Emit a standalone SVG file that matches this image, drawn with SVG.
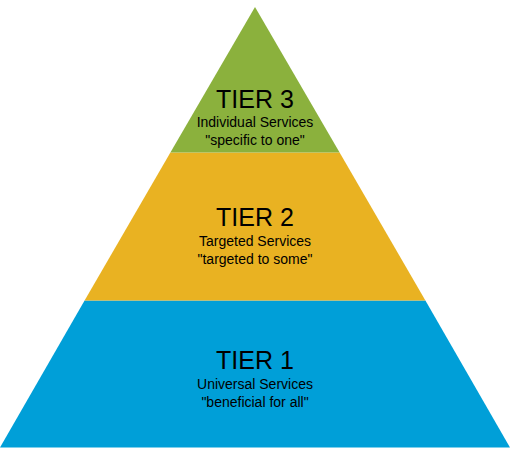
<svg xmlns="http://www.w3.org/2000/svg" width="510" height="450" viewBox="0 0 510 450">
<style>
text{font-family:"Liberation Sans",Arial,sans-serif;fill:#000;text-anchor:middle}
.t{font-size:25px}
.s{font-size:14px}
</style>
<rect width="510" height="450" fill="#fff"/>
<g id="tier1">
<polygon points="84.6,300.5 425.4,300.5 510,447.5 0,447.5" fill="#009FD8"/>
<text class="t" x="255" y="368.5">TIER 1</text>
<text class="s" x="255" y="388.5">Universal Services</text>
<text class="s" x="255" y="407">"beneficial for all"</text>
</g>
<g id="tier2">
<polygon points="170.4,152.5 339.6,152.5 425.4,300.5 84.6,300.5" fill="#E9B222"/>
<text class="t" x="255" y="226">TIER 2</text>
<text class="s" x="255" y="246">Targeted Services</text>
<text class="s" x="255" y="264">"targeted to some"</text>
</g>
<g id="tier3">
<polygon points="255,7 339.6,152.5 170.4,152.5" fill="#8BB13D"/>
<text class="t" x="255" y="108.3">TIER 3</text>
<text class="s" x="255" y="127">Individual Services</text>
<text class="s" x="255" y="145">"specific to one"</text>
</g>
</svg>
